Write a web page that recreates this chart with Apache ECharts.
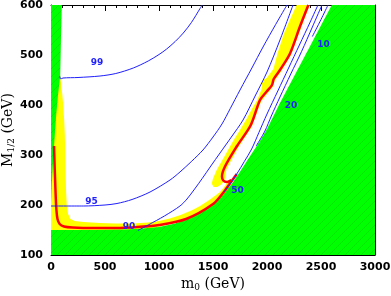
<!DOCTYPE html>
<html><head><meta charset="utf-8">
<script src="https://cdn.jsdelivr.net/npm/echarts@6/dist/echarts.min.js"></script>
<style>html,body{margin:0;padding:0;background:#fff}#c{width:391px;height:296px}</style>
</head><body><div id="c"></div>
<script>
// ---- data (GeV) ----
const xTicks = [0, 500, 1000, 1500, 2000, 2500, 3000];
const xTickLabels = ['0', '500', '1000', '1500', '2000', '2500', '3000'];
const yTicks = [100, 200, 300, 400, 500, 600];
const yTickLabels = ['100', '200', '300', '400', '500', '600'];

// excluded (green) region edge, top-right to bottom-left
const greenBoundary = [[2600,600],[2480,551],[2380,510],[2250,457],[2120,404],[2000,352],[1935,328],[1850,300],[1760,270],[1680,244],[1600,222],[1520,205],[1450,194],[1370,183],[1290,174],[1150,163],[1000,156],[850,153],[700,151],[400,150],[0,150]];
// left excluded strip
const greenLeftStrip = [[0,600],[100,600],[92,530],[85,458],[65,420],[48,380],[35,340],[22,300],[12,260],[4,225],[0,205]];
// yellow band (low m0 / low M1/2)
const yellowBand = [[75,470],[85,458],[95,440],[105,420],[115,395],[122,370],[128,340],[132,300],[136,260],[140,225],[146,200],[158,182],[180,172],[220,168],[300,166],[450,164],[600,163],[760,163],[900,165],[1000,168],[1100,173],[1200,180],[1300,189],[1380,198],[1472,211],[1565,226],[1610,238],[1645,250],[1660,235],[1500,185],[800,145],[0,140],[0,470]];
// yellow band (focus-point strip)
const yellowStrip = [[2275,600],[2200,565],[2151,540],[2100,505],[2059,472],[2000,455],[1955,448],[1950,432],[1910,410],[1873,397],[1810,372],[1750,350],[1700,333],[1657,317],[1600,295],[1534,270],[1500,253],[1488,243],[1505,236],[1540,236],[1575,241],[1605,248],[1625,272],[1730,314],[1860,357],[1945,407],[2007,424],[2056,437],[2072,449],[2130,467],[2222,500],[2315,554],[2395,600]];
// red contours
const redLow = [[28,318],[32,290],[38,250],[44,215],[50,190],[60,172],[80,162],[120,157],[200,155],[400,154],[600,154],[800,156],[1000,160],[1250,172],[1500,202],[1600,226],[1670,247],[1720,262]];
const redStrip = [[2383,600],[2305,557],[2213,503],[2120,470],[2062,452],[2046,440],[1997,427],[1935,410],[1850,360],[1719,317],[1611,277],[1583,257],[1595,249],[1630,246],[1670,250]];
// blue contours
const c99 = [[83,457],[90,452],[111,454],[250,455],[454,458],[600,463],[762,474],[900,488],[1000,501],[1071,512],[1150,527],[1225,544],[1300,565],[1380,593],[1400,600]];
const c95 = [[0,198],[300,198],[500,200],[611,203],[750,211],[917,226],[1102,250],[1194,266],[1300,287],[1407,310],[1500,336],[1583,362],[1660,393],[1750,430],[1860,474],[1963,516],[2080,561],[2185,600]];
const c90 = [[806,149],[900,160],[1050,178],[1194,198],[1259,212],[1330,232],[1400,253],[1480,278],[1565,304],[1670,336],[1778,370],[1890,418],[2000,466],[2120,530],[2241,600]];
const c50 = [[1600,226],[1650,240],[1720,262],[1790,287],[1858,312],[1925,345],[2000,382],[2100,428],[2200,474],[2300,520],[2400,566],[2472,600]];
const c20 = [[1900,318],[1981,348],[2040,378],[2120,416],[2220,462],[2320,507],[2420,556],[2509,600]];
const c10 = [[2420,537],[2500,571],[2565,600]];
const contourLabels = [['99',426,485],['95',375,207],['90',722,157],['50',1727,228],['20',2222,399],['10',2523,520]];

// ---- chart ----
function hatch() {
  const c = document.createElement('canvas');
  c.width = c.height = 8;
  const g = c.getContext('2d');
  g.fillStyle = '#00ff00'; g.fillRect(0, 0, 8, 8);
  g.strokeStyle = 'rgba(0,150,0,0.22)'; g.lineWidth = 1;
  g.beginPath(); g.moveTo(-1, 9); g.lineTo(9, -1); g.stroke();
  return c;
}
const greenFill = { image: hatch(), repeat: 'repeat' };

function polySeries(pts, fill) {
  return {
    type: 'custom', clip: true, silent: true, animation: false,
    data: [[pts[0][0], pts[0][1]]], encode: { x: 0, y: 1 },
    renderItem: (params, api) => ({
      type: 'polygon',
      shape: { points: pts.map(p => api.coord(p)) },
      style: { fill: fill, stroke: null }
    })
  };
}
function lineSeries(pts, color, width) {
  return {
    type: 'line', data: pts, showSymbol: false, symbol: 'none', smooth: 0.3,
    silent: true, animation: false, clip: true,
    lineStyle: { color: color, width: width }
  };
}
const tickFont = { color: '#000', fontFamily: 'DejaVu Sans', fontWeight: 'bold', fontSize: 11 };
function axisBase(isX, main) {
  const ticks = isX ? xTicks : yTicks;
  const labels = isX ? xTickLabels : yTickLabels;
  return {
    type: 'value',
    min: isX ? 0 : 100, max: isX ? 3000 : 600, interval: isX ? 500 : 100,
    axisLine: { show: true, onZero: false, lineStyle: { color: '#000', width: 1 } },
    axisTick: { show: true, inside: true, length: 6, lineStyle: { color: '#000', width: 1 } },
    minorTick: { show: true, splitNumber: 5, length: 3, lineStyle: { color: '#000', width: 1 } },
    splitLine: { show: false }, minorSplitLine: { show: false },
    axisLabel: main ? Object.assign({ show: true, margin: isX ? 7 : 8,
      formatter: v => { const i = ticks.indexOf(v); return i >= 0 ? labels[i] : ''; } }, tickFont)
      : { show: false }
  };
}
const serif = 'DejaVu Serif';
const xMain = Object.assign(axisBase(true, true), {
  position: 'bottom', name: '{m|m}{s|0}{m| (GeV)}', nameLocation: 'middle', nameGap: 21,
  nameMoveOverlap: false,
  nameTextStyle: { color: '#000', fontFamily: serif, fontSize: 14,
    rich: { m: { fontFamily: serif, fontSize: 14, color: '#000', lineHeight: 16 },
            s: { fontFamily: serif, fontSize: 9, color: '#000', lineHeight: 8, verticalAlign: 'bottom' } } }
});
const xTop = Object.assign(axisBase(true, false), { position: 'top' });
const yMain = Object.assign(axisBase(false, true), {
  position: 'left', name: '{m|M}{s|1/2}{m| (GeV)}', nameLocation: 'middle', nameGap: 35,
  nameMoveOverlap: false,
  nameTextStyle: { color: '#000', fontFamily: serif, fontSize: 14,
    rich: { m: { fontFamily: serif, fontSize: 14, color: '#000', lineHeight: 16 },
            s: { fontFamily: serif, fontSize: 9, color: '#000', lineHeight: 8, verticalAlign: 'bottom' } } }
});
const yRight = Object.assign(axisBase(false, false), { position: 'right' });

const blue = '#1f1fff';
const labelSeries = {
  type: 'custom', clip: false, silent: true, animation: false, z: 10,
  data: contourLabels.map(l => [l[1], l[2], l[0]]), encode: { x: 0, y: 1 },
  renderItem: (params, api) => {
    const p = api.coord([api.value(0), api.value(1)]);
    return { type: 'text', x: p[0], y: p[1],
      style: { text: contourLabels[params.dataIndex][0], fill: blue, font: 'bold 9px "DejaVu Sans"',
               align: 'center', verticalAlign: 'middle' } };
  }
};

const chart = echarts.init(document.getElementById('c'), null, { renderer: 'canvas' });
chart.setOption({
  animation: false,
  backgroundColor: '#fff',
  grid: { left: 51, right: 16, top: 5, bottom: 41, containLabel: false, outerBoundsMode: 'none' },
  xAxis: [xMain, xTop],
  yAxis: [yMain, yRight],
  series: [
    polySeries(yellowBand, '#ffff00'),
    polySeries(yellowStrip, '#ffff00'),
    polySeries([[3000,100],[3000,600]].concat(greenBoundary, [[0,100]]), greenFill),
    polySeries(greenLeftStrip, greenFill),
    lineSeries(redLow, '#ff0000', 2.5),
    lineSeries(redStrip, '#ff0000', 2.5),
    lineSeries(c99, blue, 1),
    lineSeries(c95, blue, 1),
    lineSeries(c90, blue, 1),
    lineSeries(c50, blue, 1),
    lineSeries(c20, blue, 1),
    lineSeries(c10, blue, 1),
    labelSeries
  ]
});
</script></body></html>
